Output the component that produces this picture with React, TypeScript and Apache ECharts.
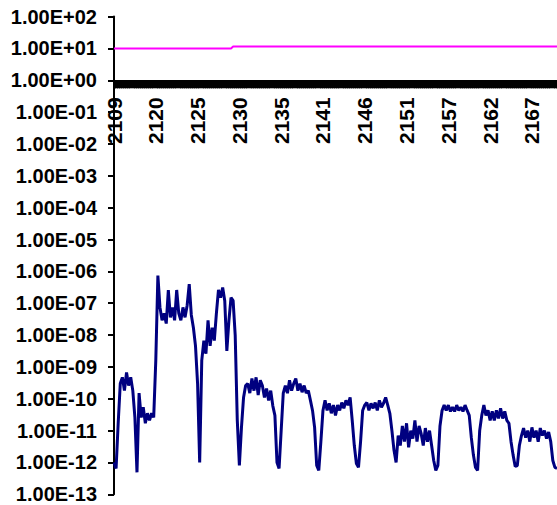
import React, { useEffect, useRef } from "react";
import * as echarts from "echarts";

// Sample positions along the x axis (one per plotted reading)
const SAMPLE_COUNT = 213;
const sampleIndex: string[] = Array.from({ length: SAMPLE_COUNT }, (_, i) => String(i));

// Tick labels shown every 20 samples
const xTickLabels = ["2109", "2120", "2125", "2130", "2135", "2141", "2146", "2151", "2157", "2162", "2167"];
const LABEL_STEP = 20;

// Navy series
const navyValues: number[] = [
  1e-12, 6.5e-13, 1.7e-11, 3e-10, 4.7e-10, 1.8e-10, 6.7e-10, 2.6e-10, 4.7e-10, 1.8e-10,
  2.6e-11, 4.9e-13, 1.5e-10, 2.6e-11, 5.4e-11, 1.7e-11, 3.5e-11, 2.1e-11, 3.5e-11, 2.6e-11,
  1.6e-9, 7.4e-7, 7.4e-8, 2.9e-8, 4.8e-8, 2.3e-8, 2.6e-7, 3.6e-8, 7.4e-8, 2.9e-8,
  2.6e-7, 4.8e-8, 2.9e-8, 7.4e-8, 3.6e-8, 8.5e-8, 4e-7, 4.3e-8, 1.7e-8, 4.6e-9,
  3e-10, 1e-12, 1.6e-9, 6.7e-9, 2.6e-9, 2.9e-8, 4.6e-9, 1.7e-8, 6.7e-9, 4.8e-8,
  2.6e-7, 1.5e-7, 3.1e-7, 1.2e-7, 3.2e-9, 2.9e-8, 1.5e-7, 1.2e-7, 1e-8, 2.1e-11,
  8e-13, 1.26e-11, 1.1e-10, 2.6e-10, 3e-10, 1.5e-10, 4.3e-10, 1.8e-10, 4.7e-10, 1.3e-10,
  3.8e-10, 2.6e-10, 1.1e-10, 2.1e-10, 8.9e-11, 1.8e-10, 6e-11, 3e-11, 1e-12, 6.5e-13,
  1e-11, 1.5e-10, 2.6e-10, 1.5e-10, 3.8e-10, 1.8e-10, 3e-10, 4.3e-10, 1.8e-10, 3e-10,
  1.6e-10, 2.6e-10, 1.5e-10, 1.8e-10, 8.9e-11, 4.3e-11, 1.26e-11, 8e-13, 5.6e-13, 4.5e-12,
  4.3e-11, 8.9e-11, 4.3e-11, 7.2e-11, 3.5e-11, 6.3e-11, 3e-11, 6.3e-11, 4.3e-11, 7.6e-11,
  5e-11, 8.9e-11, 6.3e-11, 1.1e-10, 2.1e-11, 3.4e-12, 9.3e-13, 7e-13, 4.5e-12, 4.3e-11,
  6.3e-11, 7.6e-11, 4.3e-11, 7.2e-11, 5e-11, 7.6e-11, 4.3e-11, 8.9e-11, 5.4e-11, 7.2e-11,
  1.1e-10, 6.3e-11, 3.5e-11, 1e-11, 2.4e-12, 1e-12, 7e-12, 3.4e-12, 1.4e-11, 4.5e-12,
  1.7e-11, 3e-12, 1e-11, 5.6e-12, 2.1e-11, 4.5e-12, 1.4e-11, 8e-12, 3.4e-12, 1.2e-11,
  4.5e-12, 1e-11, 3.4e-12, 1.15e-12, 5.6e-13, 8e-13, 1.4e-11, 4.3e-11, 6.3e-11, 4.3e-11,
  6.3e-11, 4e-11, 5.4e-11, 4e-11, 6.3e-11, 4.3e-11, 5.4e-11, 4e-11, 6.3e-11, 4.3e-11,
  3e-11, 6e-12, 1.7e-12, 7e-13, 5.6e-13, 1e-11, 3e-11, 6.3e-11, 3e-11, 4.3e-11,
  2.1e-11, 4e-11, 2.1e-11, 4.3e-11, 2.4e-11, 5e-11, 2.4e-11, 4e-11, 2.1e-11, 1.7e-11,
  4.5e-12, 1.7e-12, 7.5e-13, 8e-13, 3.4e-12, 7e-12, 1.2e-11, 6e-12, 1e-11, 4.5e-12,
  1.26e-11, 6e-12, 1e-11, 4.5e-12, 1.2e-11, 7e-12, 1e-11, 5.6e-12, 9e-12, 4.5e-12,
  1.15e-12, 7e-13, 6.5e-13,
];

// Magenta series: [sample index, value] break points
const magentaPoints: [number, number][] = [
  [0, 10],
  [56, 10],
  [57, 11.5],
  [212, 11.5],
];

const FONT = "'Liberation Sans', Arial, sans-serif";

function formatSci(v: number): string {
  const e = Math.round(Math.log10(v));
  const sign = e < 0 ? "-" : "+";
  return `1.00E${sign}${String(Math.abs(e)).padStart(2, "0")}`;
}

export default function App() {
  const ref = useRef<HTMLDivElement>(null);

  useEffect(() => {
    if (!ref.current) return;
    const chart = echarts.init(ref.current, null, { renderer: "svg" });
    const gridTop = 16.6;
    const gridBottom = 10.7;
    const axisY = 80.3; // where y = 1
    const plotBottom = 505 - gridBottom;
    chart.setOption({
      animation: false,
      backgroundColor: "#ffffff",
      grid: { left: 114, right: 0, top: gridTop, bottom: gridBottom, containLabel: false },
      xAxis: {
        type: "category",
        data: sampleIndex,
        boundaryGap: false,
        position: "bottom",
        offset: -(plotBottom - axisY),
        axisLine: { show: true, lineStyle: { color: "#000", width: 2 } },
        axisTick: { show: true, interval: 0, length: 8, lineStyle: { color: "#000", width: 3 } },
        axisLabel: {
          interval: LABEL_STEP - 1,
          rotate: 90,
          margin: 17,
          color: "#000",
          fontFamily: FONT,
          fontWeight: "bold",
          fontSize: 21,
          hideOverlap: false,
          formatter: (_v: string, idx: number) =>
            idx % LABEL_STEP === 0 && xTickLabels[idx / LABEL_STEP] ? xTickLabels[idx / LABEL_STEP] : "",
        },
        splitLine: { show: false },
      },
      yAxis: {
        type: "log",
        logBase: 10,
        min: 1e-13,
        max: 1e2,
        interval: 1,
        axisLine: { show: true, lineStyle: { color: "#000", width: 2 } },
        axisTick: { show: true, length: 6, lineStyle: { color: "#000", width: 2 } },
        minorTick: { show: false },
        splitLine: { show: false },
        axisLabel: {
          margin: 17,
          color: "#000",
          fontFamily: FONT,
          fontWeight: "bold",
          fontSize: 20,
          formatter: (v: number) => formatSci(v),
        },
      },
      series: [
        {
          type: "line",
          data: magentaPoints,
          showSymbol: false,
          lineStyle: { color: "#FF00FF", width: 2 },
          z: 3,
        },
        {
          type: "line",
          data: navyValues,
          showSymbol: false,
          lineStyle: { color: "#000080", width: 3 },
          z: 4,
        },
      ],
    });
    return () => chart.dispose();
  }, []);

  return (
    <div
      ref={ref}
      style={{ position: "fixed", left: 0, top: 0, width: 557, height: 505, background: "#fff" }}
    />
  );
}
